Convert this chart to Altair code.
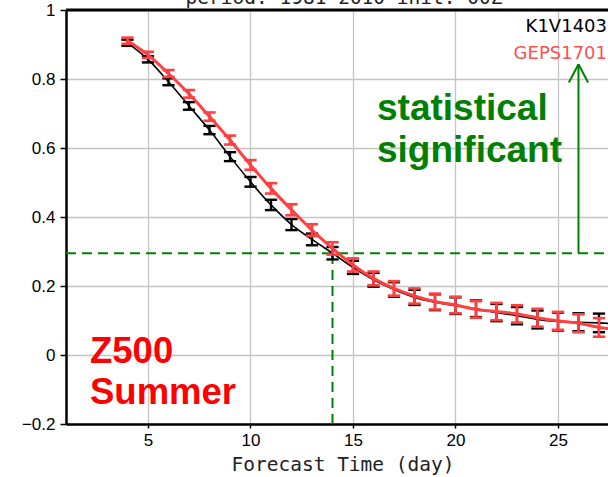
import altair as alt
import pandas as pd

# ---- data ----
days = list(range(4, 29))
k1v1403 = [0.905, 0.857, 0.792, 0.722, 0.652, 0.575, 0.502, 0.435, 0.378, 0.335,
           0.295, 0.254, 0.218, 0.190, 0.167, 0.153, 0.143, 0.134, 0.123, 0.114,
           0.103, 0.097, 0.095, 0.093, 0.090]
geps1701 = [0.911, 0.870, 0.816, 0.757, 0.691, 0.623, 0.551, 0.483, 0.421, 0.362,
            0.309, 0.261, 0.222, 0.193, 0.171, 0.155, 0.145, 0.132, 0.126, 0.119,
            0.108, 0.099, 0.092, 0.080, 0.073]
k1v1403_err = [0.009, 0.009, 0.010, 0.011, 0.012, 0.013, 0.014, 0.015, 0.016, 0.017,
               0.018, 0.019, 0.020, 0.021, 0.022, 0.023, 0.024, 0.024, 0.025, 0.025,
               0.026, 0.026, 0.026, 0.027, 0.027]
geps1701_err = [0.009, 0.009, 0.010, 0.011, 0.012, 0.013, 0.014, 0.015, 0.016, 0.017,
                0.018, 0.019, 0.020, 0.021, 0.022, 0.023, 0.024, 0.024, 0.025, 0.025,
                0.026, 0.026, 0.026, 0.027, 0.027]

x_ticks = [5, 10, 15, 20, 25]
y_ticks = [-0.2, 0, 0.2, 0.4, 0.6, 0.8, 1.0]
x_domain = [1, 27.44]
y_domain = [-0.2, 1.0]

threshold = 0.295
cross_day = 14
arrow_day = 26
arrow_top = 0.843
arrow_head_base = 0.79
arrow_head_half = 0.47

W, H = 542, 414


def frame(vals, errs):
    return pd.DataFrame({
        "day": days,
        "acc": vals,
        "lo": [v - e for v, e in zip(vals, errs)],
        "hi": [v + e for v, e in zip(vals, errs)],
    })


df_k = frame(k1v1403, k1v1403_err)
df_g = frame(geps1701, geps1701_err)

xs = alt.Scale(domain=x_domain, nice=False, zero=False)
ys = alt.Scale(domain=y_domain, nice=False, zero=False)
X = alt.X("day:Q", scale=xs,
          axis=alt.Axis(values=x_ticks, title="Forecast Time (day)", grid=True,
                        tickSize=4, labelPadding=4, titleFont="DejaVu Sans Mono",
                        titleFontSize=19.5, titleFontWeight="normal", titleColor="#222222",
                        titleBaseline="alphabetic", titleY=46.7, titleX=276.5,
                        titleAnchor="middle"))
Y = alt.Y("acc:Q", scale=ys,
          axis=alt.Axis(values=y_ticks, title="", grid=True, format=".1~f",
                        tickSize=6, labelPadding=5))


def series(df, color, line_w, bar_w):
    line = alt.Chart(df).mark_line(color=color, strokeWidth=line_w, clip=True,
                                   interpolate="monotone").encode(x=X, y=Y)
    bars = alt.Chart(df).mark_rule(color=color, strokeWidth=bar_w, clip=True).encode(
        x=X, y=alt.Y("lo:Q", scale=ys), y2="hi:Q")
    cap_lo = alt.Chart(df).mark_point(shape="M -1 0 L 1 0", size=150, filled=False,
                                      color=color, strokeWidth=bar_w, opacity=1,
                                      clip=True).encode(x=X, y=alt.Y("lo:Q", scale=ys))
    cap_hi = alt.Chart(df).mark_point(shape="M -1 0 L 1 0", size=150, filled=False,
                                      color=color, strokeWidth=bar_w, opacity=1,
                                      clip=True).encode(x=X, y=alt.Y("hi:Q", scale=ys))
    return [line, bars, cap_lo, cap_hi]


green = "#008000"
dash_h = alt.Chart(pd.DataFrame({"a": [x_domain[0]], "b": [x_domain[1]], "y": [threshold]})).mark_rule(
    color=green, strokeWidth=2, strokeDash=[10, 6]).encode(
    x=alt.X("a:Q", scale=xs), x2="b:Q", y=alt.Y("y:Q", scale=ys))
dash_v = alt.Chart(pd.DataFrame({"x": [cross_day], "a": [y_domain[0]], "b": [threshold]})).mark_rule(
    color=green, strokeWidth=2, strokeDash=[10, 6]).encode(
    x=alt.X("x:Q", scale=xs), y=alt.Y("a:Q", scale=ys), y2="b:Q")
arrow_df = pd.DataFrame({
    "x1": [arrow_day, arrow_day, arrow_day],
    "y1": [threshold, arrow_top, arrow_top],
    "x2": [arrow_day, arrow_day - arrow_head_half, arrow_day + arrow_head_half],
    "y2": [arrow_top, arrow_head_base, arrow_head_base],
})
arrow = alt.Chart(arrow_df).mark_rule(color=green, strokeWidth=2).encode(
    x=alt.X("x1:Q", scale=xs), x2="x2:Q", y=alt.Y("y1:Q", scale=ys), y2="y2:Q")

top_border = alt.Chart(pd.DataFrame({"a": [0]})).mark_rule(color="black", strokeWidth=3).encode(
    x=alt.value(0), x2=alt.value(W), y=alt.value(0))


def txt(text, x, y, color, size, font, weight="normal", align="left"):
    return alt.Chart(pd.DataFrame({"t": [text]})).mark_text(
        align=align, baseline="alphabetic", color=color, fontSize=size, font=font,
        fontWeight=weight).encode(x=alt.value(x), y=alt.value(y), text="t:N")


texts = [
    txt("period: 1981-2010 init: 00Z", 278, -6, "#222222", 19.5, "DejaVu Sans Mono", align="center"),
    txt("K1V1403", 541, 22.3, "#000000", 18, "DejaVu Sans", align="right"),
    txt("GEPS1701", 541, 49.3, "#ff5050", 18, "DejaVu Sans", align="right"),
    txt("statistical", 311, 110, green, 37, "Liberation Sans", "bold"),
    txt("significant", 311, 152, green, 37, "Liberation Sans", "bold"),
    txt("Z500", 24, 353.3, "#ff0000", 36.5, "Liberation Sans", "bold"),
    txt("Summer", 24, 394, "#ff0000", 36.5, "Liberation Sans", "bold"),
]

layers = [dash_h, dash_v, arrow] + series(df_k, "#000000", 1.6, 2.4) + \
    series(df_g, "#ff4040", 3, 2.6) + [top_border] + texts

chart = alt.layer(*layers).properties(
    width=W, height=H,
    autosize=alt.AutoSizeParams(type="none"),
    padding={"left": 66, "top": 10, "right": 0, "bottom": 53},
).configure_view(stroke="transparent").configure_axis(
    domainColor="black", domainWidth=2.5, gridColor="#c4c4c4", gridWidth=1.3,
    tickColor="black", tickWidth=1.5, labelColor="black", labelFont="Liberation Sans",
    labelFontSize=17,
)

chart.save("out.html", embed_options={"renderer": "svg", "actions": False})
